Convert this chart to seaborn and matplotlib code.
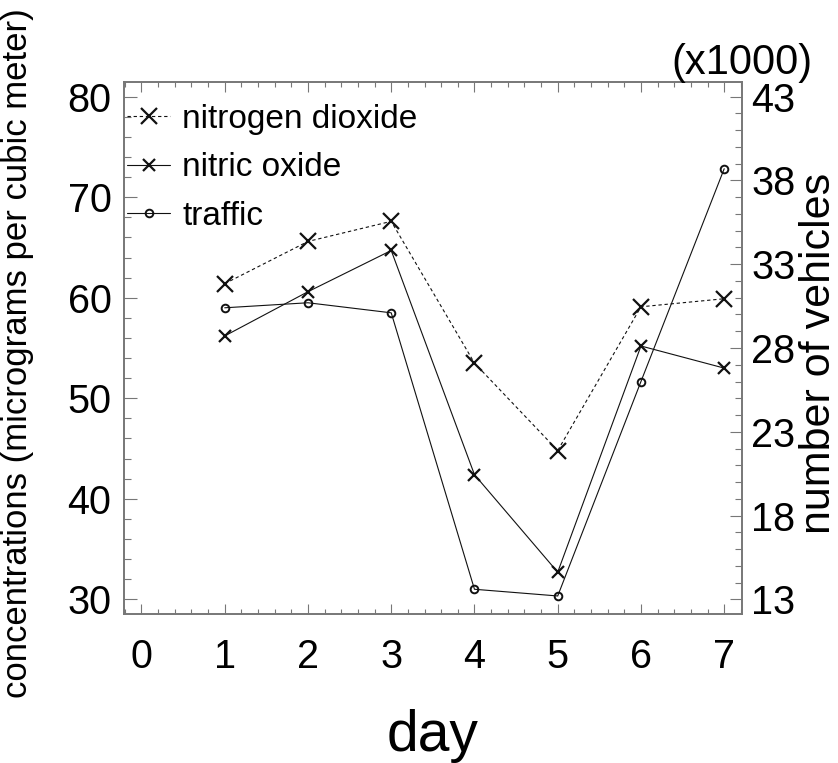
import matplotlib
matplotlib.use("Agg")
import matplotlib.pyplot as plt
import pandas as pd
import seaborn as sns
from matplotlib.ticker import MultipleLocator, FixedLocator

# Daily air-quality readings and traffic counts
days = [1, 2, 3, 4, 5, 6, 7]
nitrogen_dioxide = [61.4, 65.6, 67.6, 53.5, 44.8, 59.1, 59.9]   # ug/m3
nitric_oxide = [56.2, 60.6, 64.7, 42.4, 32.7, 55.2, 53.0]       # ug/m3
traffic_thousands = [30.4, 30.7, 30.1, 13.6, 13.2, 26.0, 38.7]  # vehicles x1000

day_ticks = [0, 1, 2, 3, 4, 5, 6, 7]
conc_ticks = [30, 40, 50, 60, 70, 80]
vehicle_ticks = [13, 18, 23, 28, 33, 38, 43]

df = pd.DataFrame({
    "day": days,
    "nitrogen dioxide": nitrogen_dioxide,
    "nitric oxide": nitric_oxide,
    "traffic": traffic_thousands,
})

sns.set_theme(style="white")
plt.rcParams["font.family"] = ["Liberation Sans", "DejaVu Sans"]

ink = "#111111"
frame = "#777777"

fig = plt.figure(figsize=(8.38, 7.63), dpi=100)
ax = fig.add_axes([0.14797, 0.19528, 0.7371, 0.69685])
ax2 = ax.twinx()

sns.lineplot(data=df, x="day", y="nitrogen dioxide", ax=ax, color=ink,
             linestyle=(0, (3, 2.5)), linewidth=0.8, marker="x",
             markersize=11.5, markeredgewidth=1.6, markeredgecolor=ink,
             label="nitrogen dioxide", legend=False)
sns.lineplot(data=df, x="day", y="nitric oxide", ax=ax, color=ink,
             linewidth=0.8, marker="x", markersize=9, markeredgewidth=1.6,
             markeredgecolor=ink, label="nitric oxide", legend=False)
sns.lineplot(data=df, x="day", y="traffic", ax=ax2, color=ink,
             linewidth=0.8, marker="o", markersize=5.5, markeredgewidth=1.4,
             markerfacecolor="none", markeredgecolor=ink, label="traffic",
             legend=False)

# Axis ranges: both vertical scales share the same pixel mapping
ax.set_xlim(-0.21, 7.21)
ax.set_ylim(28.54, 81.43)
ax2.set_ylim(12.124, 43.858)

ax.xaxis.set_major_locator(FixedLocator(day_ticks))
ax.xaxis.set_minor_locator(MultipleLocator(0.2))
ax.yaxis.set_major_locator(FixedLocator(conc_ticks))
ax.yaxis.set_minor_locator(MultipleLocator(2))
ax2.yaxis.set_major_locator(FixedLocator(vehicle_ticks))
ax2.yaxis.set_minor_locator(MultipleLocator(1))

tick_font = 28.5
ax.tick_params(axis="x", which="both", direction="in", top=True, bottom=True,
               labelsize=tick_font, pad=17, color=frame, width=0.8,
               labelcolor="black")
ax.tick_params(axis="x", which="major", length=7.2)
ax.tick_params(axis="x", which="minor", length=3.6)
ax.tick_params(axis="y", which="both", direction="in", left=True, right=False,
               labelsize=tick_font, pad=9, color=frame, width=0.8,
               labelcolor="black")
ax.tick_params(axis="y", which="major", length=9)
ax.tick_params(axis="y", which="minor", length=5)
ax2.tick_params(axis="y", which="both", direction="in", right=True, left=False,
                labelsize=tick_font, pad=7, color=frame, width=0.8,
                labelcolor="black")
ax2.tick_params(axis="y", which="major", length=9)
ax2.tick_params(axis="y", which="minor", length=5)

for a in (ax, ax2):
    for s in a.spines.values():
        s.set_color(frame)
        s.set_linewidth(1.2)

ax.set_xlabel("day", fontsize=41, labelpad=24, color="black")
ax.set_ylabel("concentrations (micrograms per cubic meter)", fontsize=25,
              color="black")
ax.yaxis.set_label_coords(-0.145, 0.49)
ax2.set_ylabel("number of vehicles", fontsize=31, rotation=90, color="black")
ax2.yaxis.set_label_coords(1.092, 0.49)
fig.text(741.7 / 838, 1 - 63 / 763, "(x1000)", fontsize=30,
         ha="center", va="center", color="black")

handles = ax.get_lines()[:2] + ax2.get_lines()[:1]
ax2.legend(handles=handles, labels=["nitrogen dioxide", "nitric oxide", "traffic"],
           loc="upper left", bbox_to_anchor=(0.005, 0.96), frameon=False,
           fontsize=24, handlelength=1.3, handletextpad=0.35,
           borderaxespad=0, borderpad=0, labelspacing=0.53,
           labelcolor="black")

fig.savefig("out.png", dpi=100)
